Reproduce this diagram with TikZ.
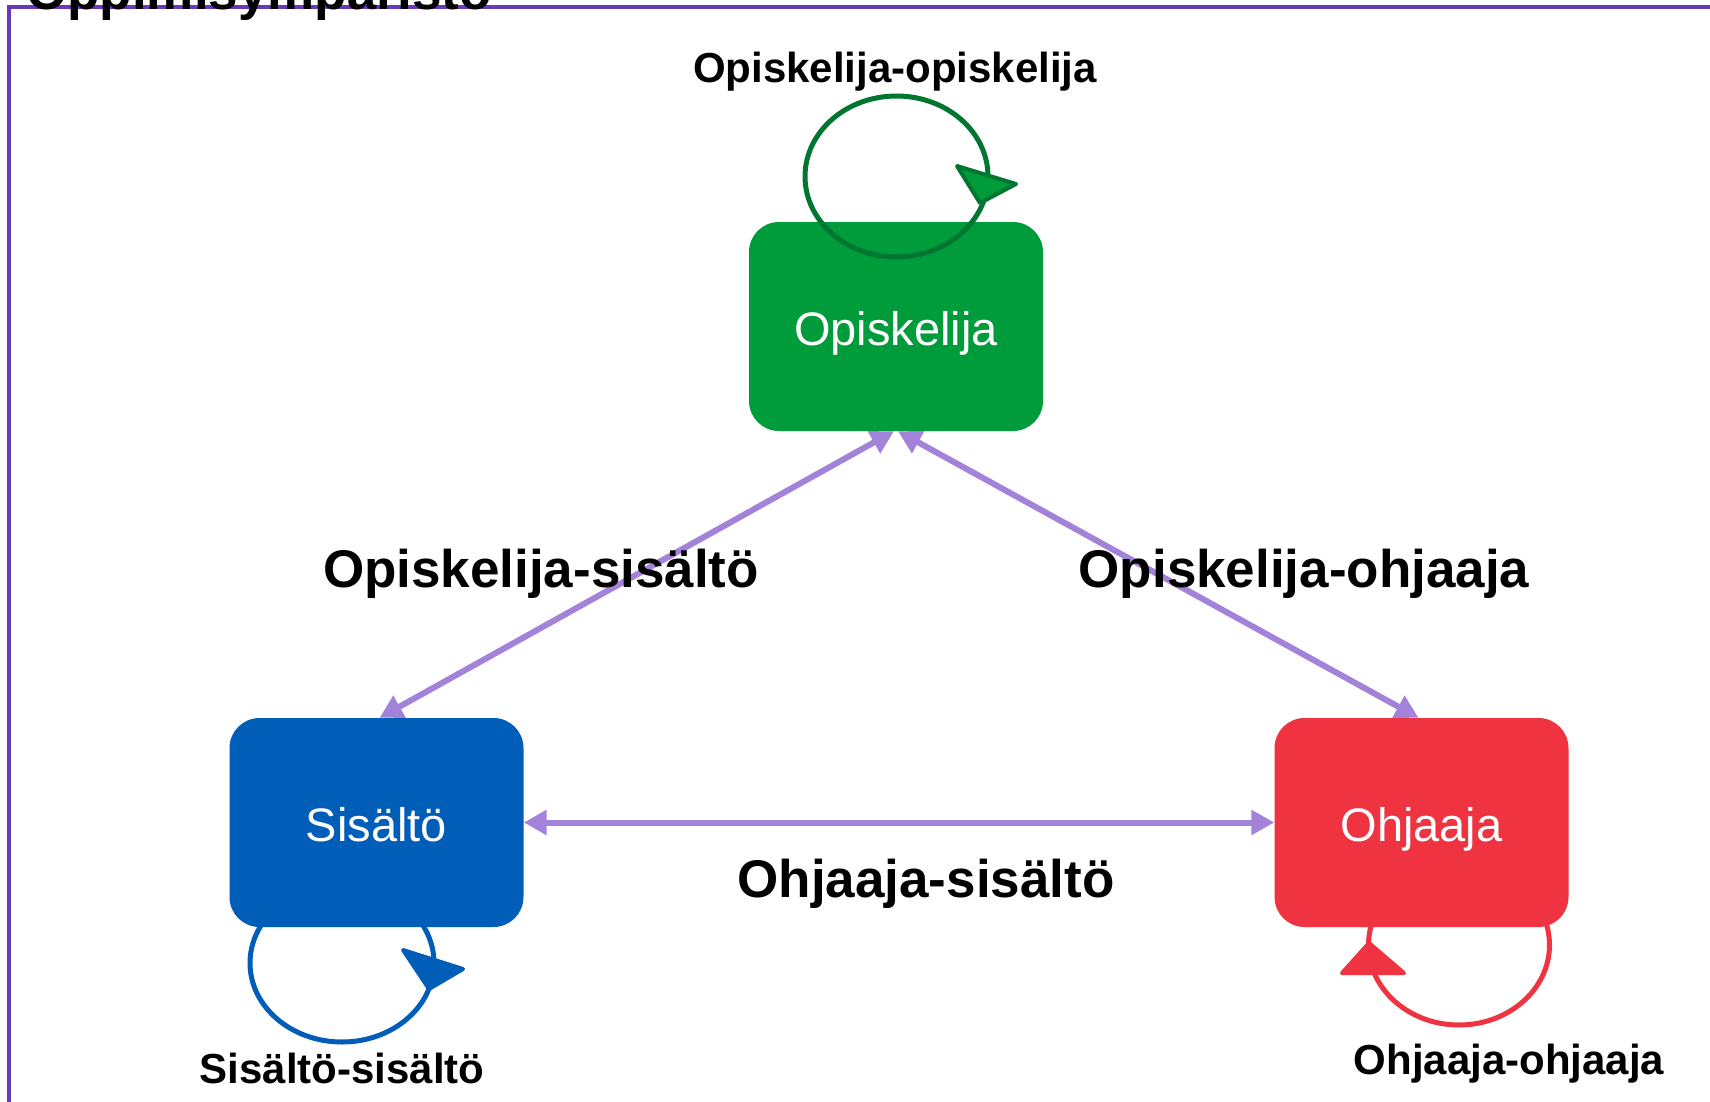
\documentclass[tikz,border=0pt]{standalone}
\usepackage{fontspec}
\setmainfont{Liberation Sans}
\usetikzlibrary{arrows.meta}
\definecolor{opigreen}{RGB}{0,155,58}
\definecolor{opidark}{RGB}{0,118,48}
\definecolor{sisblue}{RGB}{0,94,184}
\definecolor{ohjred}{RGB}{239,51,64}
\definecolor{linkpurple}{RGB}{163,130,218}
\definecolor{framepurple}{RGB}{103,58,183}
\begin{document}
\begin{tikzpicture}[x=1pt,y=-1pt,
 box/.style={rectangle, rounded corners=30pt, minimum width=294pt, minimum height=209pt, inner sep=0pt, text=white, text height=38pt, text depth=0pt, font=\fontsize{47}{56}\selectfont},
 biglabel/.style={anchor=base, inner sep=0pt, font=\bfseries\fontsize{53}{60}\selectfont},
 smalllabel/.style={anchor=base, inner sep=0pt, font=\bfseries\fontsize{42}{50}\selectfont},
 link/.style={draw=linkpurple, line width=6pt, {Triangle[length=23pt,width=24pt]}-{Triangle[length=23pt,width=24pt]}},
 selfloop/.style={line width=5pt},
 looptip/.style={line width=4pt, line join=round}]
\useasboundingbox (0,0) rectangle (1710,1102);
\fill[white] (0,0) rectangle (1710,1102);
% frame
\draw[framepurple, line width=4pt] (9,7) rectangle (1800,1200);
\node[anchor=base west, inner sep=0pt, font=\bfseries\fontsize{53}{60}\selectfont] (title) at (26,10) {Oppimisympäristö};

% loops under boxes
\draw[sisblue, selfloop] (342,963) ellipse [x radius=92, y radius=79];
\draw[ohjred, selfloop] (1459,945) ellipse [x radius=90.5, y radius=80];

% boxes
\node[box, fill=opigreen] (opi) at (896,326.5) {Opiskelija};
\node[box, fill=sisblue] (sis) at (376.5,822.5) {Sisältö};
\node[box, fill=ohjred] (ohj) at (1421.5,822.5) {Ohjaaja};

% loop over green box
\draw[opidark, selfloop] (896.5,176.5) ellipse [x radius=91.5, y radius=80.5];
\draw[looptip, draw=opidark, fill=opigreen] (957,166) -- (1016,184) -- (980,203) -- cycle;
\draw[looptip, draw=sisblue, fill=sisblue] (403,950) -- (463,969) -- (429,989) -- cycle;
\draw[looptip, draw=ohjred, fill=ohjred] (1369,943) -- (1342,973) -- (1404,973) -- cycle;

% connectors
\draw[link] ([xshift=-2pt]opi.south) -- ([xshift=3pt]sis.north);
\draw[link] ([xshift=2pt]opi.south) -- ([xshift=-3pt]ohj.north);
\draw[link] (sis.east) -- (ohj.west);

% labels
\node[biglabel] (lopisis) at (541,587) {Opiskelija-sisältö};
\node[biglabel] (lopiohj) at (1304,587) {Opiskelija-ohjaaja};
\node[biglabel] (lohjsis) at (926,897) {Ohjaaja-sisältö};
\node[smalllabel] (lopiopi) at (895,83) {Opiskelija-opiskelija};
\node[smalllabel] (lsissis) at (342,1083) {Sisältö-sisältö};
\node[smalllabel] (lohjohj) at (1509,1074) {Ohjaaja-ohjaaja};
\end{tikzpicture}
\end{document}
